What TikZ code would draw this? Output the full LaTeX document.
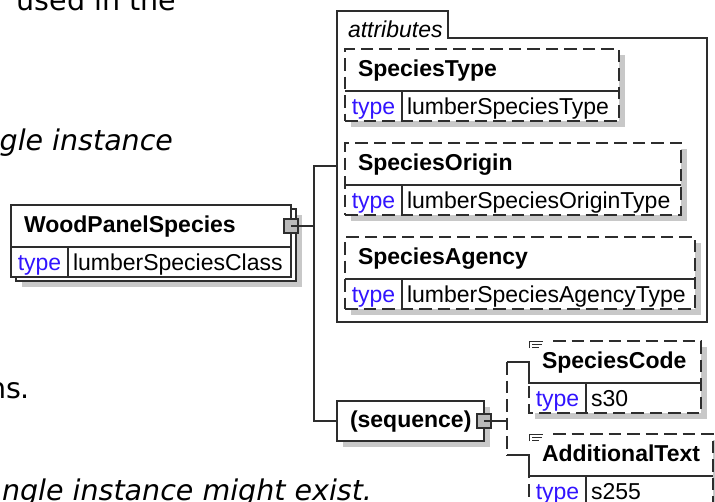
\documentclass[tikz,border=0pt]{standalone}
\usepackage{fontspec}
\setmainfont{Liberation Sans}
\newfontfamily\pagefont{DejaVu Sans}
\usetikzlibrary{positioning,fit,backgrounds,shadows}
\definecolor{edge}{RGB}{45,45,45}
\definecolor{typeblue}{RGB}{50,20,255}
\definecolor{shadowgray}{RGB}{200,200,200}
\definecolor{portgray}{RGB}{185,185,185}

\begin{document}
\begin{tikzpicture}[x=1pt, y=-1pt,
  every node/.style={outer sep=0pt},
  conn/.style={draw=edge, line width=1.2pt},
  dashline/.style={dash pattern=on 12.5pt off 6pt},
  elname/.style={font=\fontsize{23}{27}\selectfont\bfseries, align=left, anchor=north west,
    inner xsep=13pt, inner ysep=0pt, minimum height=42pt, text height=17pt, text depth=5pt},
  tylab/.style={font=\fontsize{23}{27}\selectfont, text=typeblue, anchor=north west, inner sep=0pt,
    minimum width=57pt, minimum height=30pt, text height=17pt, text depth=1pt},
  tyname/.style={font=\fontsize{23}{27}\selectfont, inner xsep=5pt, inner ysep=0pt,
    minimum height=30pt, text height=17pt, text depth=1pt},
  elbox/.style={conn, dashline, fill=white, inner sep=0pt},
  dropshade/.style={general shadow={fill=shadowgray, shadow xshift=6pt, shadow yshift=-6pt}},
  port/.style={conn, fill=portgray, minimum width=14pt, minimum height=14pt, inner sep=0pt},
  icon/.style={draw=edge, line width=1pt},
  pagetext/.style={font=\pagefont\fontsize{28.5}{34}\selectfont, anchor=base east, inner sep=0pt},
  pageit/.style={pagetext, font=\pagefont\itshape\fontsize{28.5}{34}\selectfont},
]
\useasboundingbox (0,0) rectangle (715,501);

% page text behind the diagram
\node[pagetext] (line1) at (176,10) {used in the};
\node[pageit] (line2) at (173,150) {gle instance};
\node[pagetext] (line3) at (30,398) {ns.};
\node[pageit] (line4) at (372,500) {ngle instance might exist.};

% root element
\node[elname, text width=254pt] (wps) at (11,205) {WoodPanelSpecies};
\node[tylab] (wpsl) at (wps.south west) {type};
\node[tyname, right=0pt of wpsl] (wpsn) {lumberSpeciesClass};

% attributes group
\draw[conn] (337,322) |- (448,11) |- (707,38) |- (337,322) -- cycle;
\node[font=\fontsize{23}{27}\selectfont\itshape, anchor=base west, inner sep=0pt] (attrlabel) at (348,37) {attributes};
\coordinate (attrin) at (337,166);

\node[elname, text width=248pt] (stype) at (345,49) {SpeciesType};
\node[tylab] (stypel) at (stype.south west) {type};
\node[tyname, right=0pt of stypel] (stypen) {lumberSpeciesType};

\node[elname, text width=310pt] (sorigin) at (345,143) {SpeciesOrigin};
\node[tylab] (soriginl) at (sorigin.south west) {type};
\node[tyname, right=0pt of soriginl] (soriginn) {lumberSpeciesOriginType};

\node[elname, text width=324pt] (sagency) at (345,237) {SpeciesAgency};
\node[tylab] (sagencyl) at (sagency.south west) {type};
\node[tyname, right=0pt of sagencyl] (sagencyn) {lumberSpeciesAgencyType};

% sequence and its children
\node[elname, text width=121pt, minimum height=40pt] (seq) at (337,401) {(sequence)};

\node[elname, text width=146pt] (scode) at (529,341) {SpeciesCode};
\node[tylab] (scodel) at (scode.south west) {type};
\node[tyname, right=0pt of scodel] (scoden) {s30};

\node[elname, text width=158pt] (atext) at (529,434) {AdditionalText};
\node[tylab] (atextl) at (atext.south west) {type};
\node[tyname, right=0pt of atextl] (atextn) {s255};

\begin{scope}[on background layer]
  \node[elbox, solid, dropshade, fit=(wps)(wpsl), xshift=5pt, yshift=-4pt] (wpsback) {};
  \node[elbox, solid, fit=(wps)(wpsl)] (wpsbox) {};
  \node[elbox, dropshade, fit=(stype)(stypel)] (stypebox) {};
  \node[elbox, dropshade, fit=(sorigin)(soriginl)] (originbox) {};
  \node[elbox, dropshade, fit=(sagency)(sagencyl)] (agencybox) {};
  \node[elbox, solid, dropshade, fit=(seq)] (seqbox) {};
  \node[elbox, draw=none, dropshade, fit=(scode)(scodel)] (scodebox) {};
  \node[elbox, draw=none, dropshade, fit=(atext)(atextl)] (atextbox) {};
\end{scope}

% inner rules of the element boxes
\draw[conn] (wps.south west) -- (wps.south east);
\draw[conn] (wpsl.north east) -- (wpsl.south east);
\draw[conn] (stype.south west) -- (stype.south east);
\draw[conn] (stypel.north east) -- (stypel.south east);
\draw[conn] (sorigin.south west) -- (sorigin.south east);
\draw[conn] (soriginl.north east) -- (soriginl.south east);
\draw[conn] (sagency.south west) -- (sagency.south east);
\draw[conn] (sagencyl.north east) -- (sagencyl.south east);
\draw[conn] (scodel.north east) -- (scodel.south east);
\draw[conn] (atextl.north east) -- (atextl.south east);

% optional children: open dashed frame with a note icon
\draw[conn, dashline] ([xshift=24pt]scode.north west) -- (scode.north east) -- (scodebox.south east)
  -- (scodebox.south west) -- (scode.south west);
\draw[conn, dashline] ([xshift=24pt]atext.north west) -- (atext.north east) -- (atextbox.south east)
  -- (atextbox.south west) -- (atext.south west);
\draw[icon] ([yshift=-7pt]scode.north west) |- ([xshift=14pt]scode.north west);
\draw[icon] ([shift={(3,3)}]scode.north west) -- ++(10,0);
\draw[icon] ([shift={(3,6)}]scode.north west) -- ++(7,0);
\draw[icon] ([yshift=-7pt]atext.north west) |- ([xshift=14pt]atext.north west);
\draw[icon] ([shift={(3,3)}]atext.north west) -- ++(10,0);
\draw[icon] ([shift={(3,6)}]atext.north west) -- ++(7,0);

% ports and connectors
\node[port] (wpsport) at (wps.east) {};
\node[port] (seqport) at (seq.east) {};
\coordinate (fork) at ([xshift=16pt]wpsport.east);
\coordinate (seqfork) at ([xshift=16pt]seqport.east);
\draw[conn] (wpsport.center) -- (fork);
\draw[conn] (attrin) -| (fork) |- (seq.west);
\draw[conn] (seqport.center) -- (seqfork);
\draw[conn, dashline] (seqfork |- scode.west) -- (seqfork |- atext.west);
\draw[conn] (seqfork |- scode.west) -- (scode.west) -- (scode.south west) -- (scode.south east);
\draw[conn] (seqfork |- atext.west) -- (atext.west) -- (atext.south west) -- (atext.south east);
\end{tikzpicture}
\end{document}
